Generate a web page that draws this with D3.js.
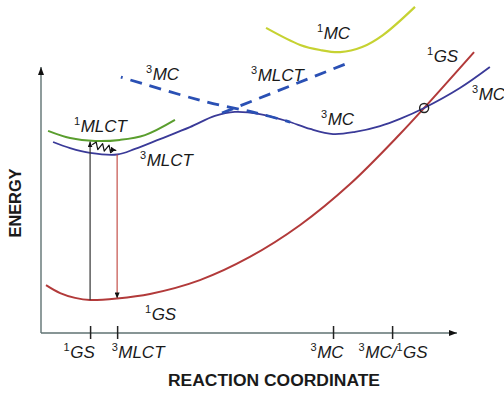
<!DOCTYPE html>
<html>
<head>
<meta charset="utf-8">
<script src="https://cdn.jsdelivr.net/npm/d3@7"></script>
<style>
  html, body { margin: 0; padding: 0; background: #fff; }
  svg { display: block; }
</style>
</head>
<body>
<svg id="chart" width="504" height="393"></svg>
<script>
// Potential energy curves: reaction coordinate (0-100) vs energy (0-100)
const gsX   = [1.2, 4.6, 8.2, 11.8, 18.3, 26.2, 38.2, 50.2, 62.3, 74.3, 86.3, 92.1, 104.1];
const gsY   = [18.0, 15.0, 13.2, 12.4, 13.0, 14.7, 19.9, 28.6, 40.6, 56.0, 74.8, 84.6, 105.6];

const tripX = [2.9, 7.0, 11.8, 18.3, 22.6, 28.6, 35.8, 41.8, 46.6, 52.6, 59.1, 64.7, 70.2, 75.5, 81.5, 86.3, 92.1, 100.7, 107.9];
const tripY = [71.8, 69.5, 67.7, 67.1, 69.2, 72.9, 77.4, 81.6, 83.1, 82.3, 79.7, 76.7, 74.8, 75.6, 77.8, 80.5, 84.6, 92.1, 100.0];

const mlct1X = [1.7, 7.0, 13.0, 19.0, 25.0, 32.2];
const mlct1Y = [76.0, 73.3, 72.2, 72.6, 74.4, 80.1];

const mc1X = [54.1, 62.3, 67.1, 71.9, 77.2, 82.2, 89.9];
const mc1Y = [114.7, 108.3, 106.4, 105.6, 107.5, 112.0, 122.6];

// Diabatic 3MC and 3MLCT branches (dashed)
const mc3DashX = [19.2, 39.9, 51.9, 59.9];
const mc3DashY = [96.2, 86.8, 82.7, 79.3];
const mlct3DashX = [43.5, 73.8];
const mlct3DashY = [82.7, 101.5];

// Crossing point of 3MC and 1GS
const crossX = 92.1, crossY = 84.6;

// Vertical transitions
const absorptionX = 11.8, absorptionFrom = 12.4, absorptionTo = 72.0;
const emissionX = 18.3, emissionFrom = 67.1, emissionTo = 13.0;
const iscFrom = [12.3, 70.8], iscTo = [18.1, 68.6];

const tickValues = [11.8, 18.3, 70.2, 84.4];
const tickLabels = ["¹GS", "³MLCT", "³MC", "³MC/¹GS"];

const svg = d3.select("#chart");
const x = d3.scaleLinear().domain([0, 100]).range([41, 457]);
const y = d3.scaleLinear().domain([0, 100]).range([333, 67]);

const defs = svg.append("defs");
function marker(id, len, wid) {
  defs.append("marker")
    .attr("id", id)
    .attr("markerUnits", "userSpaceOnUse")
    .attr("markerWidth", len).attr("markerHeight", wid)
    .attr("refX", len).attr("refY", wid / 2)
    .attr("orient", "auto")
    .append("path")
    .attr("d", `M0,0L${len},${wid / 2}L0,${wid}Z`)
    .attr("fill", "#111");
}
marker("axisHead", 8, 6);
marker("smallHead", 6, 5);

const zip = (xs, ys) => xs.map((v, i) => [v, ys[i]]);
const line = d3.line().x(d => x(d[0])).y(d => y(d[1])).curve(d3.curveCatmullRom.alpha(0.5));
const straight = d3.line().x(d => x(d[0])).y(d => y(d[1]));

// Axes
svg.append("line")
  .attr("x1", x(0)).attr("y1", y(0)).attr("x2", x(0)).attr("y2", y(100))
  .attr("stroke", "#5f7272").attr("stroke-width", 1.4)
  .attr("marker-end", "url(#axisHead)");
svg.append("line")
  .attr("x1", x(0)).attr("y1", y(0)).attr("x2", x(100)).attr("y2", y(0))
  .attr("stroke", "#5f7272").attr("stroke-width", 1.4)
  .attr("marker-end", "url(#axisHead)");

const xAxis = svg.append("g")
  .attr("transform", `translate(0,${y(0)})`)
  .call(d3.axisBottom(x).tickValues(tickValues).tickSize(6).tickFormat(""));
xAxis.select(".domain").remove();
xAxis.selectAll(".tick line")
  .attr("y1", -7).attr("y2", 6)
  .attr("stroke", "#222").attr("stroke-width", 1.5);

// Text with superscript digits rendered as raised smaller runs
function richText(sel, str, supSize, rise) {
  const supMap = { "¹": "1", "²": "2", "³": "3" };
  const runs = [];
  for (const ch of str) {
    const sup = ch in supMap;
    const c = sup ? supMap[ch] : ch;
    if (runs.length && runs[runs.length - 1].sup === sup) runs[runs.length - 1].t += c;
    else runs.push({ sup, t: c });
  }
  let raised = false;
  runs.forEach(r => {
    const t = sel.append("tspan").text(r.t);
    if (r.sup) {
      t.attr("font-size", supSize).attr("font-style", "normal");
      if (!raised) { t.attr("dy", -rise); raised = true; }
    } else if (raised) {
      t.attr("dy", rise).attr("dx", 0.5);
      raised = false;
    }
  });
}

const labelFont = { family: "'Liberation Sans', Arial, sans-serif", size: 17 };
function addLabel(parent, str, px, py) {
  const t = parent.append("text")
    .attr("x", px).attr("y", py)
    .attr("text-anchor", "start")
    .attr("font-family", labelFont.family)
    .attr("font-size", labelFont.size)
    .attr("font-style", "italic")
    .attr("fill", "#1a1a1a");
  richText(t, str, 11, 7);
  return t;
}

const tickShift = [-27, -6, -23, -34];
xAxis.selectAll(".tick").each(function (d, i) {
  addLabel(d3.select(this), tickLabels[i], tickShift[i], 25);
});

// Curves
svg.append("path").attr("d", line(zip(mc1X, mc1Y)))
  .attr("fill", "none").attr("stroke", "#c6d232").attr("stroke-width", 2.2);
svg.append("path").attr("d", line(zip(mlct1X, mlct1Y)))
  .attr("fill", "none").attr("stroke", "#5a9e2e").attr("stroke-width", 2);
svg.append("path").attr("d", line(zip(gsX, gsY)))
  .attr("fill", "none").attr("stroke", "#b23a3a").attr("stroke-width", 2);
svg.append("path").attr("d", line(zip(tripX, tripY)))
  .attr("fill", "none").attr("stroke", "#3a3a98").attr("stroke-width", 1.8);

svg.append("path").attr("d", line(zip(mc3DashX, mc3DashY)))
  .attr("fill", "none").attr("stroke", "#2a50b4").attr("stroke-width", 2.8)
  .attr("stroke-dasharray", "12 8").attr("stroke-dashoffset", 10);
svg.append("path").attr("d", straight(zip(mlct3DashX, mlct3DashY)))
  .attr("fill", "none").attr("stroke", "#2a50b4").attr("stroke-width", 2.8)
  .attr("stroke-dasharray", "12 8");

// Vertical transitions
svg.append("line")
  .attr("x1", x(absorptionX)).attr("y1", y(absorptionFrom))
  .attr("x2", x(absorptionX)).attr("y2", y(absorptionTo))
  .attr("stroke", "#333").attr("stroke-width", 1.2)
  .attr("marker-end", "url(#smallHead)");
svg.append("line")
  .attr("x1", x(emissionX)).attr("y1", y(emissionFrom))
  .attr("x2", x(emissionX)).attr("y2", y(emissionTo))
  .attr("stroke", "#c4504a").attr("stroke-width", 1.2)
  .attr("marker-end", "url(#smallHead)");

// Intersystem crossing: wavy arrow
(function () {
  const x0 = x(iscFrom[0]), y0 = y(iscFrom[1]);
  const x1 = x(iscTo[0]), y1 = y(iscTo[1]);
  const dx = x1 - x0, dy = y1 - y0, len = Math.hypot(dx, dy);
  const ux = dx / len, uy = dy / len, nx = -uy, ny = ux;
  const pts = [[x0, y0]];
  const n = 6, amp = 3.5;
  for (let i = 1; i <= n; i++) {
    const t = i / (n + 1.5);
    const s = i % 2 ? -amp : amp;
    pts.push([x0 + dx * t + nx * s, y0 + dy * t + ny * s]);
  }
  pts.push([x0 + dx * 0.9, y0 + dy * 0.9]);
  pts.push([x1, y1]);
  svg.append("path").attr("d", d3.line()(pts))
    .attr("fill", "none").attr("stroke", "#111").attr("stroke-width", 1.2)
    .attr("stroke-linejoin", "round")
    .attr("marker-end", "url(#smallHead)");
})();

// Crossing marker
svg.append("circle")
  .attr("cx", x(crossX)).attr("cy", y(crossY)).attr("r", 4.5)
  .attr("fill", "none").attr("stroke", "#222").attr("stroke-width", 1.4);

// State labels
const labels = svg.append("g");
addLabel(labels, "¹MLCT", 74, 132);
addLabel(labels, "³MLCT", 140, 166);
addLabel(labels, "³MC", 146, 80);
addLabel(labels, "³MLCT", 251, 81);
addLabel(labels, "³MC", 321, 125);
addLabel(labels, "¹MC", 317, 39);
addLabel(labels, "¹GS", 427, 62);
addLabel(labels, "³MC", 472, 100);
addLabel(labels, "¹GS", 145, 320);

// Axis titles
svg.append("text")
  .attr("x", 274).attr("y", 386)
  .attr("text-anchor", "middle")
  .attr("font-family", "'Liberation Sans', Arial, sans-serif")
  .attr("font-weight", "bold").attr("font-size", 16)
  .attr("textLength", 212).attr("lengthAdjust", "spacingAndGlyphs")
  .attr("fill", "#1a1a1a")
  .text("REACTION COORDINATE");
svg.append("text")
  .attr("transform", "translate(21,203) rotate(-90)")
  .attr("text-anchor", "middle")
  .attr("font-family", "'Liberation Sans', Arial, sans-serif")
  .attr("font-weight", "bold").attr("font-size", 16)
  .attr("textLength", 69).attr("lengthAdjust", "spacingAndGlyphs")
  .attr("fill", "#1a1a1a")
  .text("ENERGY");
</script>
</body>
</html>
